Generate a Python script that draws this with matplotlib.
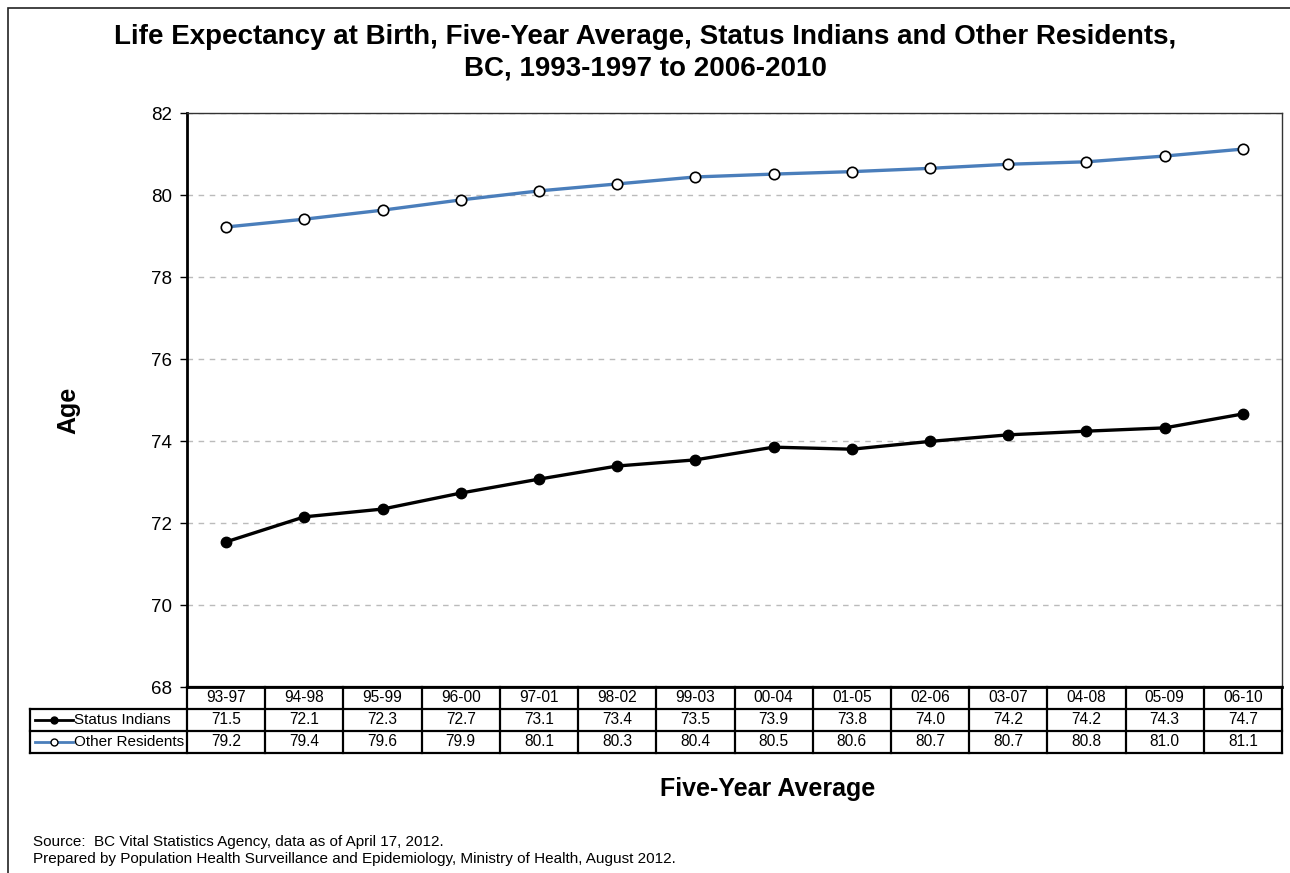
import matplotlib.pyplot as plt
from matplotlib.patches import Rectangle
from matplotlib.lines import Line2D

plt.rcParams['font.family'] = ['Liberation Sans', 'DejaVu Sans']

# Period labels (five-year averages)
periods = ["93-97", "94-98", "95-99", "96-00", "97-01", "98-02", "99-03",
           "00-04", "01-05", "02-06", "03-07", "04-08", "05-09", "06-10"]

status_indians = [71.54, 72.15, 72.34, 72.73, 73.07, 73.39, 73.54,
                  73.85, 73.80, 73.99, 74.15, 74.24, 74.32, 74.66]
other_residents = [79.22, 79.41, 79.63, 79.88, 80.10, 80.27, 80.44,
                   80.51, 80.57, 80.65, 80.75, 80.81, 80.95, 81.12]

# Values as printed in the data table
status_labels = ["71.5", "72.1", "72.3", "72.7", "73.1", "73.4", "73.5",
                 "73.9", "73.8", "74.0", "74.2", "74.2", "74.3", "74.7"]
other_labels = ["79.2", "79.4", "79.6", "79.9", "80.1", "80.3", "80.4",
                "80.5", "80.6", "80.7", "80.7", "80.8", "81.0", "81.1"]

series_names = ["Status Indians", "Other Residents"]
blue = "#4a7ebb"

W, H = 1290, 873
fig = plt.figure(figsize=(W / 100, H / 100), dpi=100)


# helpers: pixel positions -> figure fraction
def fx(px):
    return px / W


def fy(py):
    return 1 - py / H


# outer frame (right and bottom edges fall off the image)
fig.add_artist(Rectangle((fx(8), fy(900)), fx(1300) - fx(8), fy(8) - fy(900),
                         transform=fig.transFigure, fill=False,
                         edgecolor="#222222", linewidth=1.2))

ax_left, ax_right, ax_top, ax_bot = 187, 1282, 113, 687
ax = fig.add_axes([fx(ax_left), fy(ax_bot), fx(ax_right) - fx(ax_left),
                   fy(ax_top) - fy(ax_bot)])

x = list(range(len(periods)))
ax.plot(x, status_indians, color="black", linewidth=2.4, marker="o",
        markersize=7.5, markerfacecolor="black", markeredgecolor="black",
        zorder=3)
ax.plot(x, other_residents, color=blue, linewidth=2.4, marker="o",
        markersize=7.5, markerfacecolor="white", markeredgecolor="black",
        markeredgewidth=1.2, zorder=3)

ax.set_xlim(-0.5, len(periods) - 0.5)
ax.set_ylim(68, 82)
ax.set_yticks(range(68, 83, 2))
ax.tick_params(axis="y", labelsize=13.5, length=5, width=1, direction="out",
               pad=6)
ax.set_xticks([])
ax.yaxis.grid(True, linestyle=(0, (4, 4)), color="#bbbbbb", linewidth=1)
ax.set_axisbelow(True)
for side in ["left", "bottom"]:
    ax.spines[side].set_linewidth(2)
for side in ["top", "right"]:
    ax.spines[side].set_linewidth(1)
    ax.spines[side].set_color("#333333")

fig.text(fx(68), fy(410), "Age", fontsize=18, fontweight="bold",
         rotation=90, ha="center", va="center")

fig.text(fx(645), fy(24), "Life Expectancy at Birth, Five-Year Average, Status Indians and Other Residents,\nBC, 1993-1997 to 2006-2010",
         ha="center", va="top", fontsize=20, fontweight="bold",
         linespacing=1.3)

# data table under the axes
col_w = (ax_right - ax_left) / len(periods)
rows_y = [687, 709, 731, 753]
lab_left = 30


def hline(x0, x1, y, lw=1.6):
    fig.add_artist(Line2D([fx(x0), fx(x1)], [fy(y), fy(y)],
                          transform=fig.transFigure, color="black",
                          linewidth=lw))


def vline(xp, y0, y1, lw=1.6):
    fig.add_artist(Line2D([fx(xp), fx(xp)], [fy(y0), fy(y1)],
                          transform=fig.transFigure, color="black",
                          linewidth=lw))


hline(ax_left, ax_right, rows_y[0])
for yy in rows_y[1:]:
    hline(lab_left, ax_right, yy)
for i in range(len(periods) + 1):
    vline(ax_left + i * col_w, rows_y[0], rows_y[3])
vline(lab_left, rows_y[1], rows_y[3])

for i, p in enumerate(periods):
    cx = ax_left + (i + 0.5) * col_w
    fig.text(fx(cx), fy(698), p, ha="center", va="center", fontsize=11.2)
    fig.text(fx(cx), fy(720), status_labels[i], ha="center", va="center",
             fontsize=11.2)
    fig.text(fx(cx), fy(742), other_labels[i], ha="center", va="center",
             fontsize=11.2)

# legend keys in the row labels
for ry, name, lc, mfc in [(720, series_names[0], "black", "black"),
                          (742, series_names[1], blue, "white")]:
    fig.add_artist(Line2D([fx(35), fx(73)], [fy(ry), fy(ry)],
                          transform=fig.transFigure, color=lc, linewidth=2))
    fig.add_artist(Line2D([fx(54)], [fy(ry)], transform=fig.transFigure,
                          marker="o", markersize=5, markerfacecolor=mfc,
                          markeredgecolor="black", linestyle="none"))
    fig.text(fx(74), fy(ry), name, ha="left", va="center", fontsize=11)

fig.text(fx(768), fy(789), "Five-Year Average", ha="center", va="center",
         fontsize=18, fontweight="bold")

fig.text(fx(33), fy(842), "Source:  BC Vital Statistics Agency, data as of April 17, 2012.",
         ha="left", va="center", fontsize=11)
fig.text(fx(33), fy(859), "Prepared by Population Health Surveillance and Epidemiology, Ministry of Health, August 2012.",
         ha="left", va="center", fontsize=11)

fig.savefig("out.png", dpi=100)
